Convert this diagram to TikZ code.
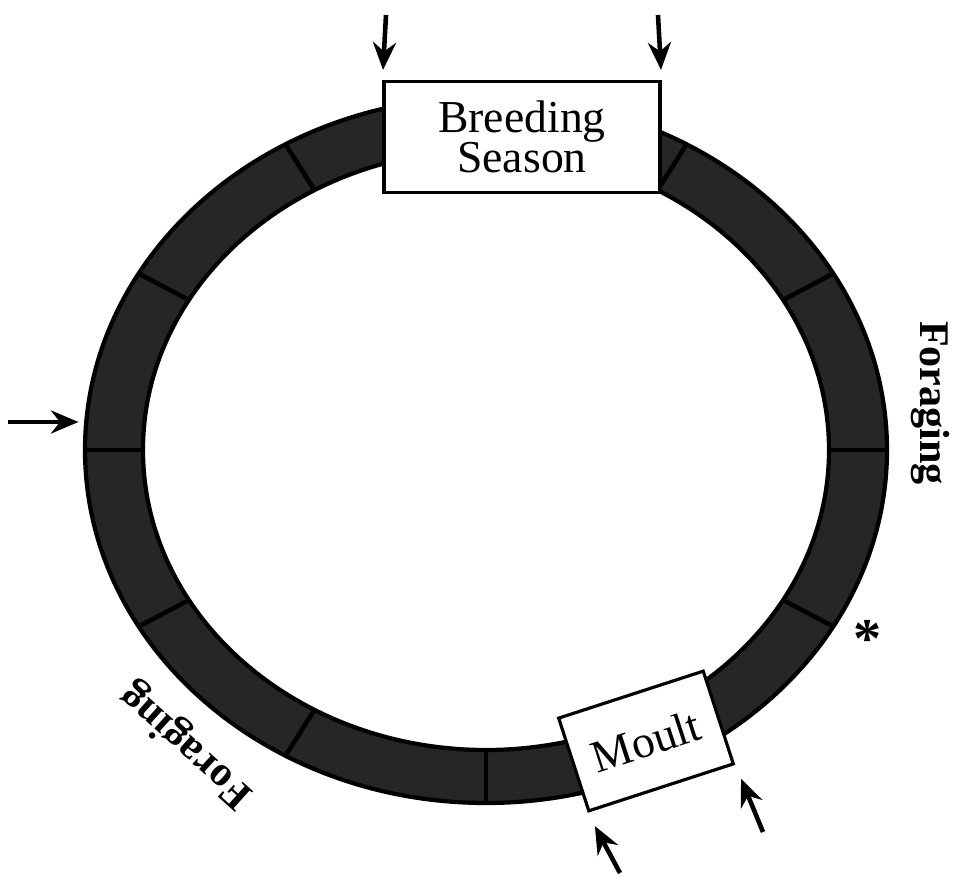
\documentclass[tikz,border=0pt]{standalone}
\usepackage{fontspec}
\setmainfont{Liberation Serif}
\usetikzlibrary{positioning,arrows.meta,calc}
\tikzset{
  box/.style  = {draw, line width=1.8pt, fill=white, align=center, inner sep=0pt, font=\fontsize{26}{23}\selectfont},
  band/.style = {fill=black!85, draw=black, line width=2.4pt, even odd rule},
  tick/.style = {draw=black, line width=2.6pt},
  flow/.style = {-{Stealth[length=5.5mm,width=4.6mm]}, line width=2.6pt},
  lbl/.style  = {font=\fontsize{24}{24}\selectfont\bfseries, inner sep=0pt},
}

\begin{document}
\begin{tikzpicture}[x=0.02cm, y=0.02cm]
  \useasboundingbox (0,0) rectangle (974,877);
  \coordinate (c) at (486,427);
  % the year as a ring of months
  \draw[band] (c) ellipse [x radius=401, y radius=353] (c) ellipse [x radius=343, y radius=300];
  \foreach \t in {0,30,...,330}
    \draw[tick] ($(c)+(\t:343 and 300)$) -- ($(c)+(\t:401 and 353)$);

  \node[box, minimum width=5.52cm, minimum height=2.22cm] (bs) at (522,740) {Breeding\\Season};
  \node[box, rotate=18, minimum width=3.04cm, minimum height=1.95cm] (mo) at (646,136) {Moult};

  \node[lbl, rotate=-90] (fr) at (930,474) {Foraging};
  \node[lbl, rotate=138] (fl) at (187,132) {Foraging};
  \node[font=\fontsize{32}{32}\selectfont\bfseries, inner sep=0pt] (ast) at (868,238) {*};

  \coordinate (t1) at (386,862);
  \coordinate (t2) at (658,862);
  \coordinate (w1) at (8,455);
  \coordinate (rw) at (86,455);
  \coordinate (m1) at (620,4);
  \coordinate (m2) at (763,45);
  \draw[flow, shorten >=2mm] (t1) -- (bs.north west);
  \draw[flow, shorten >=2mm] (t2) -- (bs.north east);
  \draw[flow, shorten >=1.5mm] (w1) -- (rw);
  \draw[flow, shorten >=3mm] (m1) -- (mo.south west);
  \draw[flow, shorten >=3mm] (m2) -- (mo.south east);
\end{tikzpicture}
\end{document}
